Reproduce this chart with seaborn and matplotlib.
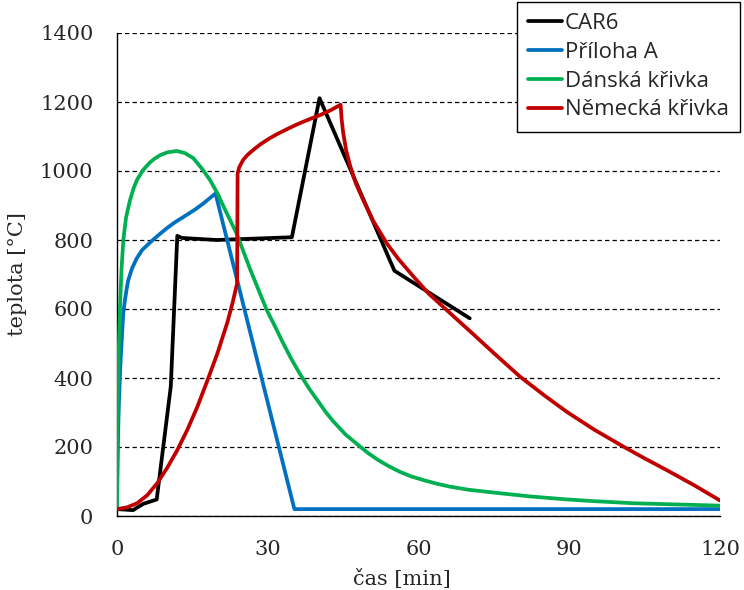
import matplotlib
matplotlib.use("Agg")
import matplotlib.pyplot as plt
from matplotlib.ticker import MultipleLocator
import seaborn as sns
import pandas as pd

# Time [min] and temperature [°C] for each fire curve
car6_t = [0, 3.2, 5.2, 7.9, 10.7, 12.0, 12.9, 19.8, 34.8, 40.3, 55.2, 70.2]
car6_T = [20, 17, 35, 48, 375, 812, 806, 800, 808, 1211, 711, 573]

priloha_t = [0, 0.1, 0.2, 0.3, 0.4, 0.6, 0.8, 1.0, 1.25, 1.6, 2.0, 2.25, 3.0,
             3.9, 5.0, 6.6, 8.0, 9.9, 11.5, 13.9, 15.5, 17.2, 19.6, 35.3, 120]
priloha_T = [20, 130, 220, 285, 335, 414, 475, 525, 588, 628, 665, 684, 718,
             746, 771, 793, 811, 834, 851, 873, 888, 906, 935, 20, 20]

danska_t = [0, 0.05, 0.1, 0.2, 0.35, 0.6, 0.9, 1.26, 1.8, 2.6, 3.3, 4.0, 5.2,
            6.5, 7.5, 8.6, 10.0, 11.9, 13.5, 15.2, 17.0, 18.5, 20.0, 21.2,
            23.8, 26.5, 29.8, 31.5, 33.0, 34.7, 36.4, 38.2, 40.0, 41.5, 43.0,
            45.5, 48.4, 50.0, 52.0, 54.0, 56.3, 58.5, 61.0, 63.5, 66.3, 70.0,
            76.2, 82.0, 89.5, 95.0, 102.7, 110.0, 120]
danska_T = [20, 150, 250, 370, 480, 607, 715, 800, 865, 916, 950, 975, 1003,
            1024, 1036, 1046, 1054, 1058, 1052, 1037, 1005, 974, 935, 897,
            819, 715, 597, 548, 503, 455, 412, 370, 333, 302, 275,
            236, 201, 182, 162, 145, 128, 115, 104, 94, 85, 76,
            66, 57, 48, 43, 37, 34, 30]

nemecka_t = [0, 2.0, 4.0, 6.0, 8.0, 10.0, 12.0, 14.0, 16.0, 18.0, 20.0, 22.0,
             23.0, 23.9, 24.0, 24.3, 25.1, 26.0, 27.1, 28.5, 30.4, 32.0, 33.8,
             35.5, 37.1, 38.8, 40.4, 42.5, 44.5, 44.7, 45.0, 45.6, 46.4, 47.5,
             49.0, 51.0, 53.7, 56.0, 59.0, 62.0, 65.6, 70.9, 75.0, 80.2, 85.0,
             89.5, 95.0, 100.8, 105.0, 109.4, 115.0, 120]
nemecka_T = [20, 25, 37, 60, 95, 140, 191, 250, 317, 393, 472, 563,
             618, 674, 993, 1010, 1032, 1047, 1061, 1077, 1095, 1108, 1121,
             1133, 1143, 1153, 1162, 1176, 1192, 1150, 1112, 1060, 1015, 965,
             916, 855, 790, 745, 694, 645, 597, 527, 472, 404, 350,
             302, 250, 201, 167, 133, 88, 45]

series_names = ["CAR6", "Příloha A", "Dánská křivka", "Německá křivka"]
series_colors = ["#000000", "#0070C0", "#00B050", "#C00000"]

sns.set_style("white")
plt.rcParams["font.family"] = ["DejaVu Serif"]

fig = plt.figure(figsize=(7.44, 5.90), dpi=100)
ax = fig.add_axes([117 / 744, 1 - 516 / 590, 603 / 744, 483 / 590])

data = [(car6_t, car6_T), (priloha_t, priloha_T),
        (danska_t, danska_T), (nemecka_t, nemecka_T)]
for (t, T), name, col in zip(data, series_names, series_colors):
    df = pd.DataFrame({"t": t, "T": T})
    sns.lineplot(data=df, x="t", y="T", ax=ax, color=col, lw=2.7,
                 label=name, sort=False, estimator=None, zorder=3)

ax.set_xlim(0, 120)
ax.set_ylim(0, 1400)
ax.xaxis.set_major_locator(MultipleLocator(30))
ax.xaxis.set_minor_locator(MultipleLocator(15))
ax.yaxis.set_major_locator(MultipleLocator(200))

ax.set_axisbelow(True)
ax.yaxis.grid(True, color="black", linestyle=(0, (3.5, 2.5)), lw=0.9)
ax.xaxis.grid(False)

for side in ("top", "right"):
    ax.spines[side].set_visible(False)
for side in ("left", "bottom"):
    ax.spines[side].set_color("black")
    ax.spines[side].set_linewidth(1.0)

ax.tick_params(axis="x", which="major", direction="inout", length=9,
               width=1, color="black", labelsize=15, pad=13)
ax.tick_params(axis="x", which="minor", direction="in", length=5,
               width=1, color="black")
ax.tick_params(axis="y", which="major", direction="out", length=5,
               width=1, color="black", labelsize=15, pad=12)

ax.set_xlabel("čas [min]", fontsize=15, labelpad=0)
ax.set_ylabel("teplota [°C]", fontsize=15, labelpad=0)
ax.xaxis.set_label_coords(0.473, -0.11)
ax.yaxis.set_label_coords(-0.149, 0.5)

leg = ax.legend(loc="upper right", bbox_to_anchor=(740 / 744, 1 - 2 / 590),
                bbox_transform=fig.transFigure, borderaxespad=0,
                frameon=True, fancybox=False, framealpha=1,
                edgecolor="black", handlelength=1.5, handletextpad=0.15,
                labelspacing=0.35, borderpad=0.5,
                prop={"family": "Open Sans", "size": 16})
leg.get_frame().set_linewidth(1.0)
leg.set_zorder(5)

fig.savefig("out.png", dpi=100)
